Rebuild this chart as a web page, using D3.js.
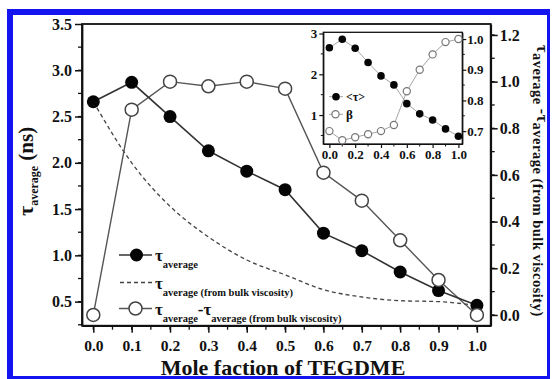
<!DOCTYPE html>
<html>
<head>
<meta charset="utf-8">
<script src="https://cdn.jsdelivr.net/npm/d3@7"></script>
<style>
  html, body { margin: 0; padding: 0; background: #fff; }
  svg { display: block; }
  text { font-family: "Liberation Serif", "Times New Roman", serif; font-weight: bold; fill: #111; }
</style>
</head>
<body>
<svg id="chart" width="552" height="379"></svg>
<script>
// Mole fraction of TEGDME (shared by main plot and inset)
const moleFraction = [0.0, 0.1, 0.2, 0.3, 0.4, 0.5, 0.6, 0.7, 0.8, 0.9, 1.0];
// Average solvation time (ns), left axis
const tauAverage = [2.66, 2.87, 2.50, 2.13, 1.91, 1.71, 1.24, 1.05, 0.82, 0.62, 0.46];
// Average time estimated from bulk viscosity (ns), left axis
const tauBulk = [2.66, 2.00, 1.53, 1.20, 0.95, 0.79, 0.63, 0.55, 0.51, 0.50, 0.46];
// Difference tau_average - tau_average(bulk), right axis
const tauDiff = [0.00, 0.88, 1.00, 0.98, 1.00, 0.97, 0.61, 0.49, 0.32, 0.15, 0.00];
// Inset: <tau> (left inset axis) and stretching exponent beta (right inset axis)
const insetTau = [2.65, 2.86, 2.64, 2.29, 1.96, 1.74, 1.28, 1.03, 0.88, 0.66, 0.48];
const insetBeta = [0.70, 0.67, 0.68, 0.69, 0.70, 0.72, 0.83, 0.90, 0.95, 0.99, 1.00];

// Tick values
const xTicks = [0.0, 0.1, 0.2, 0.3, 0.4, 0.5, 0.6, 0.7, 0.8, 0.9, 1.0];
const leftTicks = [0.5, 1.0, 1.5, 2.0, 2.5, 3.0, 3.5];
const rightTicks = [0.0, 0.2, 0.4, 0.6, 0.8, 1.0, 1.2];
const insetXTicks = [0.0, 0.2, 0.4, 0.6, 0.8, 1.0];
const insetLeftTicks = [1, 2, 3];
const insetRightTicks = [0.7, 0.8, 0.9, 1.0];

const svg = d3.select("#chart");

// Blue frame around the figure
const blue = "#1414f0";
svg.append("rect").attr("x", 7).attr("y", 9).attr("width", 6).attr("height", 370).attr("fill", blue);
svg.append("rect").attr("x", 7).attr("y", 9).attr("width", 543).attr("height", 6).attr("fill", blue);
svg.append("rect").attr("x", 547).attr("y", 9).attr("width", 3).attr("height", 370).attr("fill", blue);
svg.append("rect").attr("x", 7).attr("y", 376).attr("width", 543).attr("height", 3).attr("fill", blue);

// Main plot geometry
const L = 82, R = 490.7, T = 24, B = 325.7;
const x = d3.scaleLinear().domain([-0.0295, 1.036]).range([L, R]);
const yL = d3.scaleLinear().domain([0.24, 3.5]).range([B, T]);
const yR = d3.scaleLinear().domain([-0.046, 1.247]).range([B, T]);

const fmt1 = d3.format(".1f");

function styleAxis(g, size) {
  g.selectAll("path").attr("stroke", "#111").attr("stroke-width", 1.8);
  g.selectAll("line").attr("stroke", "#111").attr("stroke-width", 1.5);
  g.selectAll("text").attr("font-size", size).attr("fill", "#111")
    .attr("font-family", '"Liberation Serif", "Times New Roman", serif').attr("font-weight", "bold");
}

// Minor ticks
const gMinor = svg.append("g").attr("stroke", "#111").attr("stroke-width", 1.3);
d3.range(0, 1.0001, 0.05).forEach(v => {
  gMinor.append("line").attr("x1", x(v)).attr("x2", x(v)).attr("y1", B).attr("y2", B + 4);
});
d3.range(0.25, 3.5, 0.25).forEach(v => {
  gMinor.append("line").attr("x1", L).attr("x2", L - 4).attr("y1", yL(v)).attr("y2", yL(v));
});
d3.range(0.0, 1.21, 0.1).forEach(v => {
  gMinor.append("line").attr("x1", R).attr("x2", R + 4).attr("y1", yR(v)).attr("y2", yR(v));
});

const xAxis = svg.append("g").attr("transform", `translate(0,${B})`)
  .call(d3.axisBottom(x).tickValues(xTicks).tickFormat(fmt1).tickSize(7).tickPadding(7).tickSizeOuter(0));
styleAxis(xAxis, 15.5);

const leftAxis = svg.append("g").attr("transform", `translate(${L},0)`)
  .call(d3.axisLeft(yL).tickValues(leftTicks).tickFormat(fmt1).tickSize(7).tickPadding(3).tickSizeOuter(0));
styleAxis(leftAxis, 16);

const rightAxis = svg.append("g").attr("transform", `translate(${R},0)`)
  .call(d3.axisRight(yR).tickValues(rightTicks).tickFormat(fmt1).tickSize(7).tickPadding(2).tickSizeOuter(0));
styleAxis(rightAxis, 16);

// Plot frame (top line completes the box)
svg.append("rect").attr("x", L).attr("y", T).attr("width", R - L).attr("height", B - T)
  .attr("fill", "none").attr("stroke", "#111").attr("stroke-width", 1.8);

// Series
const pts = (ys) => moleFraction.map((m, i) => [m, ys[i]]);

const lineL = d3.line().x(d => x(d[0])).y(d => yL(d[1]));
const lineR = d3.line().x(d => x(d[0])).y(d => yR(d[1]));
const curveL = d3.line().x(d => x(d[0])).y(d => yL(d[1])).curve(d3.curveMonotoneX);

svg.append("path").attr("d", curveL(pts(tauBulk)))
  .attr("fill", "none").attr("stroke", "#444").attr("stroke-width", 1.3).attr("stroke-dasharray", "4,3");

svg.append("path").attr("d", lineR(pts(tauDiff)))
  .attr("fill", "none").attr("stroke", "#555").attr("stroke-width", 1.4);

svg.append("path").attr("d", lineL(pts(tauAverage)))
  .attr("fill", "none").attr("stroke", "#333").attr("stroke-width", 1.6);

svg.append("g").selectAll("circle").data(pts(tauAverage)).join("circle")
  .attr("cx", d => x(d[0])).attr("cy", d => yL(d[1])).attr("r", 6.5).attr("fill", "#050505");

svg.append("g").selectAll("circle").data(pts(tauDiff)).join("circle")
  .attr("cx", d => x(d[0])).attr("cy", d => yR(d[1])).attr("r", 6.5)
  .attr("fill", "#fff").attr("stroke", "#444").attr("stroke-width", 1.5);

// Legend
const leg = svg.append("g");
function tauLabel(g, xPos, yPos, parts) {
  const t = g.append("text").attr("x", xPos).attr("y", yPos);
  let shift = 0;
  parts.forEach(p => {
    const dy = p.sub ? 7 - shift : -shift;
    shift = p.sub ? 7 : 0;
    t.append("tspan").attr("dy", dy).attr("font-size", p.sub ? 10.5 : 17).text(p.t);
  });
  return t;
}
leg.append("line").attr("x1", 119).attr("x2", 152).attr("y1", 255).attr("y2", 255).attr("stroke", "#333").attr("stroke-width", 1.6);
leg.append("circle").attr("cx", 136.5).attr("cy", 255).attr("r", 6.5).attr("fill", "#050505");
tauLabel(leg, 155, 261, [{t: "τ"}, {t: "average", sub: true}]);

leg.append("line").attr("x1", 120).attr("x2", 152).attr("y1", 282.5).attr("y2", 282.5)
  .attr("stroke", "#444").attr("stroke-width", 1.3).attr("stroke-dasharray", "4,3");
tauLabel(leg, 155, 289, [{t: "τ"}, {t: "average (from bulk viscosity)", sub: true}]);

leg.append("line").attr("x1", 119).attr("x2", 152).attr("y1", 308.5).attr("y2", 308.5).attr("stroke", "#555").attr("stroke-width", 1.4);
leg.append("circle").attr("cx", 135.5).attr("cy", 308.5).attr("r", 6.5).attr("fill", "#fff").attr("stroke", "#444").attr("stroke-width", 1.5);
tauLabel(leg, 155, 315, [{t: "τ"}, {t: "average", sub: true}, {t: "-τ"}, {t: "average (from bulk viscosity)", sub: true}]);

// Axis titles
svg.append("text").attr("x", 283).attr("y", 374.5).attr("text-anchor", "middle")
  .attr("font-size", 22).text("Mole faction of TEGDME");

const lt = svg.append("text").attr("transform", "translate(33,216) rotate(-90)");
lt.append("tspan").attr("font-size", 22).text("τ");
lt.append("tspan").attr("font-size", 12).attr("dy", 5).text("average");
lt.append("tspan").attr("font-size", 21).attr("dy", -5).text(" (ns)");

const rt = svg.append("text").attr("transform", "translate(537,45) rotate(90)").attr("letter-spacing", 0.5);
rt.append("tspan").attr("font-size", 16).text("τ");
rt.append("tspan").attr("font-size", 14.5).attr("dy", 4).text("average ");
rt.append("tspan").attr("font-size", 16).attr("dy", -4).text("-τ");
rt.append("tspan").attr("font-size", 14.5).attr("dy", 4).text("average (from bulk viscosity)");

// Inset
const iL = 323.3, iR = 462.3, iT = 32.3, iB = 144;
const xi = d3.scaleLinear().domain([-0.047, 1.03]).range([iL, iR]);
const yiL = d3.scaleLinear().domain([0.29, 3.03]).range([iB, iT]);
const yiR = d3.scaleLinear().domain([0.658, 1.022]).range([iB, iT]);

svg.append("rect").attr("x", iL).attr("y", iT).attr("width", iR - iL).attr("height", iB - iT)
  .attr("fill", "#fff");

const gim = svg.append("g").attr("stroke", "#111").attr("stroke-width", 1);
d3.range(0.1, 1.0, 0.2).forEach(v => {
  gim.append("line").attr("x1", xi(v)).attr("x2", xi(v)).attr("y1", iB).attr("y2", iB + 2.5);
});
d3.range(0.5, 3.0, 1).forEach(v => {
  gim.append("line").attr("x1", iL).attr("x2", iL - 2.5).attr("y1", yiL(v)).attr("y2", yiL(v));
});
d3.range(0.75, 1.0, 0.1).forEach(v => {
  gim.append("line").attr("x1", iR).attr("x2", iR + 2.5).attr("y1", yiR(v)).attr("y2", yiR(v));
});

const ixAxis = svg.append("g").attr("transform", `translate(0,${iB})`)
  .call(d3.axisBottom(xi).tickValues(insetXTicks).tickFormat(fmt1).tickSize(4).tickPadding(2).tickSizeOuter(0));
styleAxis(ixAxis, 13);
const ilAxis = svg.append("g").attr("transform", `translate(${iL},0)`)
  .call(d3.axisLeft(yiL).tickValues(insetLeftTicks).tickFormat(d3.format("d")).tickSize(4).tickPadding(2).tickSizeOuter(0));
styleAxis(ilAxis, 13);
const irAxis = svg.append("g").attr("transform", `translate(${iR},0)`)
  .call(d3.axisRight(yiR).tickValues(insetRightTicks).tickFormat(fmt1).tickSize(4).tickPadding(1).tickSizeOuter(0));
styleAxis(irAxis, 13);
[ixAxis, ilAxis, irAxis].forEach(g => g.selectAll("path,line").attr("stroke-width", 1.2));

svg.append("rect").attr("x", iL).attr("y", iT).attr("width", iR - iL).attr("height", iB - iT)
  .attr("fill", "none").attr("stroke", "#111").attr("stroke-width", 1.3);

const ilineL = d3.line().x(d => xi(d[0])).y(d => yiL(d[1]));
const ilineR = d3.line().x(d => xi(d[0])).y(d => yiR(d[1]));
svg.append("path").attr("d", ilineL(pts(insetTau))).attr("fill", "none").attr("stroke", "#999").attr("stroke-width", 0.9);
svg.append("path").attr("d", ilineR(pts(insetBeta))).attr("fill", "none").attr("stroke", "#999").attr("stroke-width", 0.9);
svg.append("g").selectAll("circle").data(pts(insetTau)).join("circle")
  .attr("cx", d => xi(d[0])).attr("cy", d => yiL(d[1])).attr("r", 3.8).attr("fill", "#050505");
svg.append("g").selectAll("circle").data(pts(insetBeta)).join("circle")
  .attr("cx", d => xi(d[0])).attr("cy", d => yiR(d[1])).attr("r", 3.6)
  .attr("fill", "#fff").attr("stroke", "#777").attr("stroke-width", 1.2);

// Inset legend
const il = svg.append("g");
il.append("line").attr("x1", 329).attr("x2", 343).attr("y1", 96.7).attr("y2", 96.7).attr("stroke", "#999").attr("stroke-width", 0.9);
il.append("circle").attr("cx", 336).attr("cy", 96.7).attr("r", 3.8).attr("fill", "#050505");
il.append("text").attr("x", 346).attr("y", 101).attr("font-size", 12).text("<τ>");
il.append("line").attr("x1", 329).attr("x2", 343).attr("y1", 114.3).attr("y2", 114.3).attr("stroke", "#999").attr("stroke-width", 0.9);
il.append("circle").attr("cx", 335.5).attr("cy", 114.3).attr("r", 3.6).attr("fill", "#fff").attr("stroke", "#777").attr("stroke-width", 1.2);
il.append("text").attr("x", 346).attr("y", 118.5).attr("font-size", 13).text("β");
</script>
</body>
</html>
